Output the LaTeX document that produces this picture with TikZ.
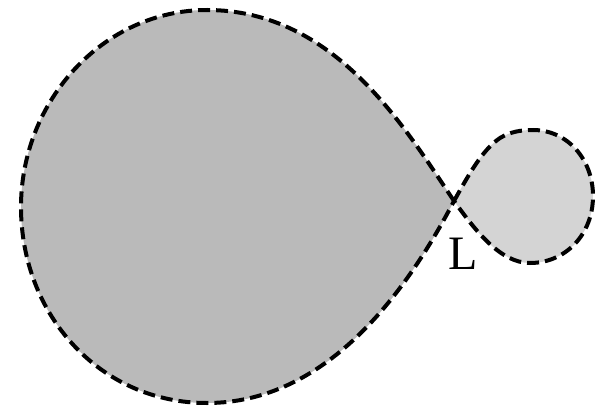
\documentclass[tikz,border=0pt]{standalone}
\usepackage{fontspec}
\setmainfont{Liberation Serif}
\definecolor{bigfill}{HTML}{BABABA}
\definecolor{smallfill}{HTML}{D4D4D4}
\begin{document}
\begin{tikzpicture}[x=1pt,y=-1pt,
  lobeline/.style={draw=black,line width=4pt,dash pattern=on 12pt off 6pt},
  lbl/.style={inner sep=0pt,font=\fontsize{48}{52}\selectfont}]
\useasboundingbox (0,0) rectangle (596,417);
\coordinate (L) at (454,201);
\coordinate (btop) at (207,10);
\coordinate (bleft) at (21,207);
\coordinate (bbot) at (207,403);
\coordinate (smid) at (500,138);
\coordinate (stop) at (533,130);
\coordinate (sright) at (593,196);
\coordinate (sbot) at (530,263);
\def\biglobe{(L) .. controls (405,128) and (335,10) .. (btop)
  .. controls (104,10) and (21,100) .. (bleft)
  .. controls (21,315) and (100,403) .. (bbot)
  .. controls (325,403) and (405,295) .. (L)}
\def\smalllobe{(L) .. controls (468,176) and (482,150) .. (smid)
  .. controls (510,132) and (520,130) .. (stop)
  .. controls (568,130) and (593,160) .. (sright)
  .. controls (593,235) and (565,263) .. (sbot)
  .. controls (500,263) and (475,230) .. (L)}
\fill[bigfill] \biglobe -- cycle;
\fill[smallfill] \smalllobe -- cycle;
\draw[lobeline] \biglobe;
\draw[lobeline] \smalllobe;
\node[lbl] (Llabel) at (463,254) {L};
\end{tikzpicture}
\end{document}
